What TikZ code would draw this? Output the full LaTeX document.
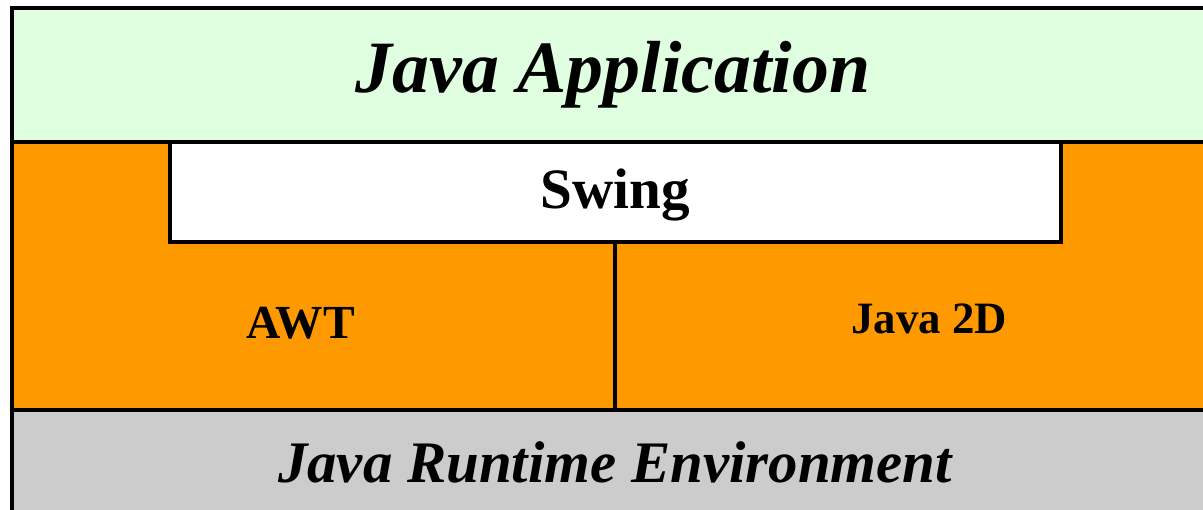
\documentclass[tikz,border=0pt]{standalone}
\usepackage{fontspec}
\setmainfont{Liberation Serif}
\definecolor{appgreen}{HTML}{E0FFE0}
\definecolor{awtorange}{HTML}{FF9900}
\definecolor{jregrey}{HTML}{CCCCCC}
\newcommand{\layerfont}[1]{\fontsize{#1}{#1}\selectfont\bfseries}
\begin{document}
\begin{tikzpicture}[line width=1.9pt]
   \useasboundingbox (0,0) rectangle (24.06,10.18);
   \clip (0,0) rectangle (24.06,10.18);
   % layers
   \filldraw[fill=jregrey,draw=black] (0.24,-1) rectangle (25,1.98);
   \filldraw[fill=awtorange,draw=black] (0.24,1.98) rectangle (25,7.34);
   \filldraw[fill=appgreen,draw=black] (0.24,7.34) rectangle (25,10.02);
   \filldraw[fill=white,draw=black] (3.40,5.34) rectangle (21.22,7.34);
   \draw (12.30,1.98) -- (12.30,5.34);
   % labels
   \node[anchor=base,inner sep=0pt] (app) at (12.26,8.32) {\layerfont{42pt}\itshape Java Application};
   \node[anchor=base,inner sep=0pt] (swing) at (12.30,6.02) {\layerfont{32.5pt}Swing};
   \node[anchor=base,inner sep=0pt] (awt) at (6.02,3.42) {\layerfont{27pt}AWT};
   \node[anchor=base,inner sep=0pt] (j2d) at (18.58,3.52) {\layerfont{25.5pt}Java 2D};
   \node[anchor=base,inner sep=0pt] (jre) at (12.30,0.54) {\layerfont{33.5pt}\itshape Java Runtime Environment};
\end{tikzpicture}
\end{document}
